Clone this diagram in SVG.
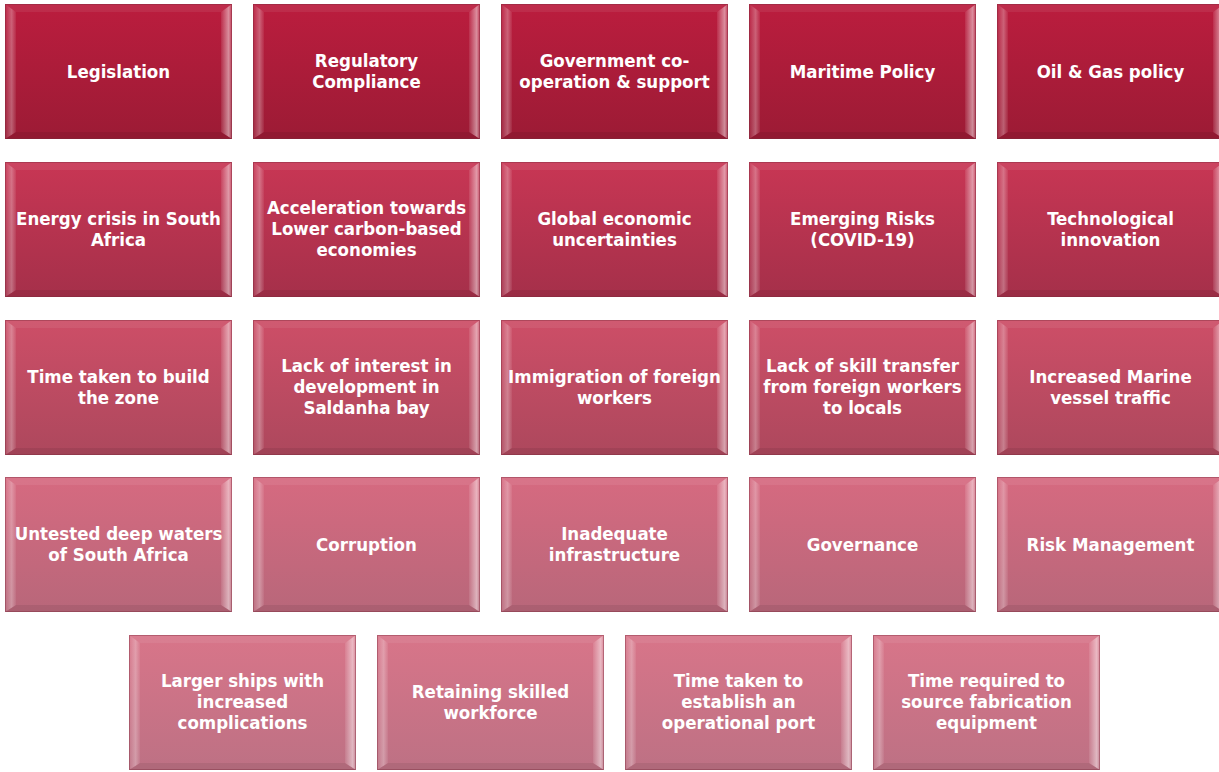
<svg xmlns="http://www.w3.org/2000/svg" xmlns:xlink="http://www.w3.org/1999/xlink" width="1219" height="772" viewBox="0 0 1219 772">
  <defs>
    <linearGradient id="r1" x1="0" y1="0" x2="0" y2="1">
      <stop offset="0" stop-color="#bb1d3e"/><stop offset="1" stop-color="#9c1b35"/>
    </linearGradient>
    <linearGradient id="r2" x1="0" y1="0" x2="0" y2="1">
      <stop offset="0" stop-color="#c83654"/><stop offset="1" stop-color="#a5304a"/>
    </linearGradient>
    <linearGradient id="r3" x1="0" y1="0" x2="0" y2="1">
      <stop offset="0" stop-color="#cd4e67"/><stop offset="1" stop-color="#ad485d"/>
    </linearGradient>
    <linearGradient id="r4" x1="0" y1="0" x2="0" y2="1">
      <stop offset="0" stop-color="#d66a80"/><stop offset="1" stop-color="#b8677a"/>
    </linearGradient>
    <linearGradient id="r5" x1="0" y1="0" x2="0" y2="1">
      <stop offset="0" stop-color="#d87589"/><stop offset="1" stop-color="#bd7184"/>
    </linearGradient>
    <linearGradient id="bevL" x1="0" y1="0" x2="1" y2="0">
      <stop offset="0" stop-color="#fff" stop-opacity="0.04"/>
      <stop offset="0.6" stop-color="#fff" stop-opacity="0.3"/>
      <stop offset="1" stop-color="#fff" stop-opacity="0.06"/>
    </linearGradient>
    <linearGradient id="bevR" x1="0" y1="0" x2="1" y2="0">
      <stop offset="0" stop-color="#fff" stop-opacity="0.08"/>
      <stop offset="0.7" stop-color="#fff" stop-opacity="0.5"/>
      <stop offset="1" stop-color="#fff" stop-opacity="0.12"/>
    </linearGradient>
    <!-- bevelled frame laid over each coloured tile -->
    <g id="bevel">
      <polygon points="0,0 227,0 216,8 11,8" fill="#fff" fill-opacity="0.07"/>
      <polygon points="0,0 11,8 11,128 0,135" fill="url(#bevL)"/>
      <polygon points="227,0 227,135 216,128 216,8" fill="url(#bevR)"/>
      <polygon points="0,135 11,128 216,128 227,135" fill="#000" fill-opacity="0.07"/>
      <rect x="0.5" y="0.5" width="226" height="134" fill="none" stroke="#7a2a3c" stroke-opacity="0.4"/>
    </g>
  </defs>
  <style>
    text { font-family: "DejaVu Sans Condensed", "DejaVu Sans", sans-serif; font-weight: bold; font-size: 18.5px; fill: #ffffff; text-anchor: middle; }
  </style>
  <rect width="1219" height="772" fill="#ffffff"/>

  <!-- row 1 -->
  <g id="n-legislation" transform="translate(5,4)"><rect width="227" height="135" fill="url(#r1)"/><use xlink:href="#bevel"/><text x="113.5" y="74">Legislation</text></g>
  <g id="n-regulatory" transform="translate(253,4)"><rect width="227" height="135" fill="url(#r1)"/><use xlink:href="#bevel"/><text x="113.5" y="63">Regulatory</text><text x="113.5" y="84">Compliance</text></g>
  <g id="n-government" transform="translate(501,4)"><rect width="227" height="135" fill="url(#r1)"/><use xlink:href="#bevel"/><text x="113.5" y="63">Government co-</text><text x="113.5" y="84">operation &amp; support</text></g>
  <g id="n-maritime" transform="translate(749,4)"><rect width="227" height="135" fill="url(#r1)"/><use xlink:href="#bevel"/><text x="113.5" y="74">Maritime Policy</text></g>
  <g id="n-oilgas" transform="translate(997,4)"><rect width="227" height="135" fill="url(#r1)"/><use xlink:href="#bevel"/><text x="113.5" y="74">Oil &amp; Gas policy</text></g>

  <!-- row 2 -->
  <g id="n-energy" transform="translate(5,162)"><rect width="227" height="135" fill="url(#r2)"/><use xlink:href="#bevel"/><text x="113.5" y="63">Energy crisis in South</text><text x="113.5" y="84">Africa</text></g>
  <g id="n-acceleration" transform="translate(253,162)"><rect width="227" height="135" fill="url(#r2)"/><use xlink:href="#bevel"/><text x="113.5" y="52">Acceleration towards</text><text x="113.5" y="73">Lower carbon-based</text><text x="113.5" y="94">economies</text></g>
  <g id="n-global" transform="translate(501,162)"><rect width="227" height="135" fill="url(#r2)"/><use xlink:href="#bevel"/><text x="113.5" y="63">Global economic</text><text x="113.5" y="84">uncertainties</text></g>
  <g id="n-emerging" transform="translate(749,162)"><rect width="227" height="135" fill="url(#r2)"/><use xlink:href="#bevel"/><text x="113.5" y="63">Emerging Risks</text><text x="113.5" y="84">(COVID-19)</text></g>
  <g id="n-tech" transform="translate(997,162)"><rect width="227" height="135" fill="url(#r2)"/><use xlink:href="#bevel"/><text x="113.5" y="63">Technological</text><text x="113.5" y="84">innovation</text></g>

  <!-- row 3 -->
  <g id="n-timebuild" transform="translate(5,320)"><rect width="227" height="135" fill="url(#r3)"/><use xlink:href="#bevel"/><text x="113.5" y="63">Time taken to build</text><text x="113.5" y="84">the zone</text></g>
  <g id="n-lackinterest" transform="translate(253,320)"><rect width="227" height="135" fill="url(#r3)"/><use xlink:href="#bevel"/><text x="113.5" y="52">Lack of interest in</text><text x="113.5" y="73">development in</text><text x="113.5" y="94">Saldanha bay</text></g>
  <g id="n-immigration" transform="translate(501,320)"><rect width="227" height="135" fill="url(#r3)"/><use xlink:href="#bevel"/><text x="113.5" y="63">Immigration of foreign</text><text x="113.5" y="84">workers</text></g>
  <g id="n-skilltransfer" transform="translate(749,320)"><rect width="227" height="135" fill="url(#r3)"/><use xlink:href="#bevel"/><text x="113.5" y="52">Lack of skill transfer</text><text x="113.5" y="73">from foreign workers</text><text x="113.5" y="94">to locals</text></g>
  <g id="n-vessel" transform="translate(997,320)"><rect width="227" height="135" fill="url(#r3)"/><use xlink:href="#bevel"/><text x="113.5" y="63">Increased Marine</text><text x="113.5" y="84">vessel traffic</text></g>

  <!-- row 4 -->
  <g id="n-deepwaters" transform="translate(5,477)"><rect width="227" height="135" fill="url(#r4)"/><use xlink:href="#bevel"/><text x="113.5" y="63">Untested deep waters</text><text x="113.5" y="84">of South Africa</text></g>
  <g id="n-corruption" transform="translate(253,477)"><rect width="227" height="135" fill="url(#r4)"/><use xlink:href="#bevel"/><text x="113.5" y="74">Corruption</text></g>
  <g id="n-infrastructure" transform="translate(501,477)"><rect width="227" height="135" fill="url(#r4)"/><use xlink:href="#bevel"/><text x="113.5" y="63">Inadequate</text><text x="113.5" y="84">infrastructure</text></g>
  <g id="n-governance" transform="translate(749,477)"><rect width="227" height="135" fill="url(#r4)"/><use xlink:href="#bevel"/><text x="113.5" y="74">Governance</text></g>
  <g id="n-risk" transform="translate(997,477)"><rect width="227" height="135" fill="url(#r4)"/><use xlink:href="#bevel"/><text x="113.5" y="74">Risk Management</text></g>

  <!-- row 5 -->
  <g id="n-ships" transform="translate(129,635)"><rect width="227" height="135" fill="url(#r5)"/><use xlink:href="#bevel"/><text x="113.5" y="52">Larger ships with</text><text x="113.5" y="73">increased</text><text x="113.5" y="94">complications</text></g>
  <g id="n-workforce" transform="translate(377,635)"><rect width="227" height="135" fill="url(#r5)"/><use xlink:href="#bevel"/><text x="113.5" y="63">Retaining skilled</text><text x="113.5" y="84">workforce</text></g>
  <g id="n-port" transform="translate(625,635)"><rect width="227" height="135" fill="url(#r5)"/><use xlink:href="#bevel"/><text x="113.5" y="52">Time taken to</text><text x="113.5" y="73">establish an</text><text x="113.5" y="94">operational port</text></g>
  <g id="n-fabrication" transform="translate(873,635)"><rect width="227" height="135" fill="url(#r5)"/><use xlink:href="#bevel"/><text x="113.5" y="52">Time required to</text><text x="113.5" y="73">source fabrication</text><text x="113.5" y="94">equipment</text></g>

  <g id="connectors"/>
</svg>
